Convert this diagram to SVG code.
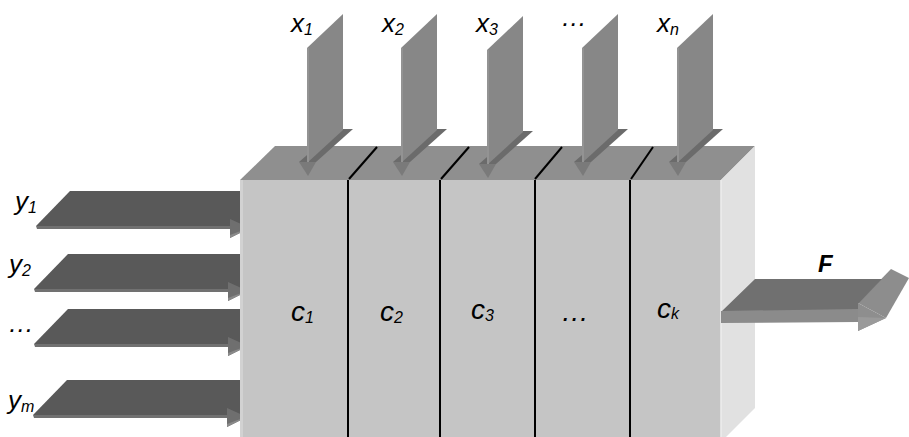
<svg xmlns="http://www.w3.org/2000/svg" xmlns:xlink="http://www.w3.org/1999/xlink" width="909" height="437" viewBox="0 0 909 437">
  <style>
    .lbl { font-family: "Liberation Sans", Arial, sans-serif; font-style: italic; font-size: 26px; fill: #000; }
    .clbl { font-family: "Liberation Sans", Arial, sans-serif; font-style: italic; font-size: 28px; fill: #000; }
    .sub { font-size: 16px; }
    .div { stroke: #000; stroke-width: 2; fill: none; }
  </style>
  <defs>
    <g id="xarrow">
      <polygon points="-8,162 30,129 46,129 9,162" fill="#6b6b6b"/>
      <polygon points="0,48 36,14 36,130 0,163" fill="#878787"/>
      <line x1="1" y1="48" x2="1" y2="163" stroke="#939393" stroke-width="2"/>
      <polygon points="-8,162 9,162 1,176" fill="#7a7a7a"/>
    </g>
    <g id="yarrow">
      <polygon points="230,28 262,-6 284,4 250,37" fill="#7a7a7a"/>
      <polygon points="70,0 250,0 250,35 36,35" fill="#595959"/>
      <polygon points="36,35 232,35 232,38 37,38" fill="#717171"/>
      <polygon points="230,28 250,37 230,47" fill="#6f6f6f"/>
      <polygon points="230,44 246,38 250,37 230,47" fill="#8a8a8a"/>
    </g>
  </defs>

  <g id="box">
    <polygon points="240,180 275,146 755,146 721,180" fill="#8f8f8f"/>
    <polygon points="721,180 755,146 755,408 721,442" fill="#e1e1e1"/>
  </g>

  <g id="connectors">
    <use xlink:href="#yarrow" transform="translate(0,191)"/>
    <use xlink:href="#yarrow" transform="translate(-2,254)"/>
    <use xlink:href="#yarrow" transform="translate(-2,309)"/>
    <use xlink:href="#yarrow" transform="translate(-3,380)"/>
  </g>

  <g id="box-front">
    <rect x="240" y="180" width="481" height="260" fill="#c5c5c5"/>
    <rect x="240" y="180" width="3" height="260" fill="#d2d2d2"/>
    <line x1="721" y1="180" x2="721" y2="440" stroke="#ececec" stroke-width="1.5"/>
    <line class="div" x1="349" y1="179" x2="377" y2="147"/>
    <line class="div" x1="441" y1="179" x2="469" y2="147"/>
    <line class="div" x1="535" y1="179" x2="562" y2="147"/>
    <line class="div" x1="631" y1="179" x2="653" y2="147"/>
  </g>

  <g id="x-inputs">
    <use xlink:href="#xarrow" transform="translate(307,0)"/>
    <use xlink:href="#xarrow" transform="translate(401,0)"/>
    <use xlink:href="#xarrow" transform="translate(487,2)"/>
    <use xlink:href="#xarrow" transform="translate(582,0)"/>
    <use xlink:href="#xarrow" transform="translate(677,0)"/>
  </g>

  <g id="cell1"><line class="div" x1="348" y1="180" x2="348" y2="437"/><text class="clbl" x="291" y="321">c<tspan class="sub" dy="2">1</tspan></text></g>
  <g id="cell2"><line class="div" x1="440" y1="180" x2="440" y2="437"/><text class="clbl" x="380" y="321">c<tspan class="sub" dy="2">2</tspan></text></g>
  <g id="cell3"><line class="div" x1="535" y1="180" x2="535" y2="437"/><text class="clbl" x="471" y="319">c<tspan class="sub" dy="2">3</tspan></text></g>
  <g id="cell4"><line class="div" x1="630" y1="180" x2="630" y2="437"/><text class="clbl" x="561" y="321">…</text></g>
  <g id="cellk"><text class="clbl" x="657" y="318">c<tspan class="sub" dy="1">k</tspan></text></g>

  <g id="output">
    <polygon points="858,303 891,269 909,278 886,318" fill="#8d8d8d"/>
    <polygon points="721,312 755,279 882,279 858,304 858,312" fill="#707070"/>
    <polygon points="721,311 858,309 858,322 721,323" fill="#8b8b8b"/>
    <polygon points="858,303 886,318 858,331" fill="#8e8e8e"/>
    <polygon points="858,317 886,318 858,331" fill="#9a9a9a"/>
    <text x="818" y="272" style="font-family:'Liberation Sans',Arial,sans-serif;font-style:italic;font-weight:bold;font-size:24px">F</text>
  </g>

  <g id="x-labels">
    <text class="lbl" x="291" y="32">x<tspan class="sub" dy="3">1</tspan></text>
    <text class="lbl" x="382" y="32">x<tspan class="sub" dy="3">2</tspan></text>
    <text class="lbl" x="476" y="32">x<tspan class="sub" dy="3">3</tspan></text>
    <text class="lbl" x="561" y="26">…</text>
    <text class="lbl" x="657" y="32">x<tspan class="sub" dy="3">n</tspan></text>
  </g>
  <g id="y-labels">
    <text class="lbl" x="15" y="210">y<tspan class="sub" dy="3">1</tspan></text>
    <text class="lbl" x="9" y="273">y<tspan class="sub" dy="3">2</tspan></text>
    <text class="lbl" x="8" y="332">…</text>
    <text class="lbl" x="8" y="409">y<tspan class="sub" dy="3">m</tspan></text>
  </g>
</svg>
